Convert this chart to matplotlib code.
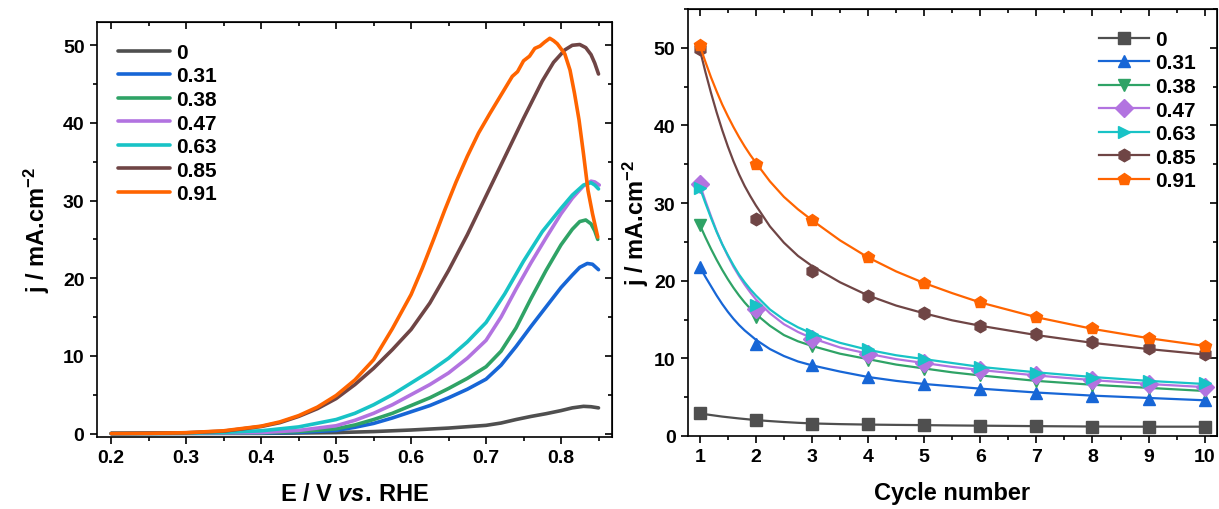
import matplotlib
matplotlib.use("Agg")
import matplotlib.pyplot as plt
from matplotlib.ticker import MultipleLocator

plt.rcParams['font.family'] = ['Liberation Sans', 'DejaVu Sans']
plt.rcParams['font.weight'] = 'bold'
plt.rcParams['mathtext.fontset'] = 'custom'
plt.rcParams['mathtext.rm'] = 'Liberation Sans:bold'
plt.rcParams['mathtext.bf'] = 'Liberation Sans:bold'
plt.rcParams['mathtext.it'] = 'Liberation Sans:italic:bold'

# ---- data ----
labels = ["0", "0.31", "0.38", "0.47", "0.63", "0.85", "0.91"]
colors = ["#4f4f4f", "#1766d6", "#2fa366", "#b273e0", "#18c3c6", "#6f4545", "#ff6400"]
markers = ["s", "^", "v", "D", ">", "h", "p"]

# left panel: LSV curves, j vs E
E_0 = [0.2, 0.4, 0.5, 0.55, 0.6, 0.65, 0.7, 0.72, 0.74, 0.76, 0.78, 0.8, 0.815, 0.83, 0.84, 0.85]
j_0 = [0, 0.02, 0.12, 0.25, 0.45, 0.7, 1.05, 1.35, 1.8, 2.2, 2.55, 2.95, 3.3, 3.5, 3.45, 3.3]
E_031 = [0.2, 0.4, 0.45, 0.5, 0.525, 0.55, 0.575, 0.6, 0.625, 0.65, 0.675, 0.7, 0.72, 0.74,
         0.76, 0.78, 0.8, 0.815, 0.825, 0.835, 0.842, 0.85]
j_031 = [0, 0.05, 0.15, 0.4, 0.8, 1.3, 2.0, 2.8, 3.6, 4.6, 5.7, 7.0, 8.8, 11.2,
         13.8, 16.3, 18.8, 20.4, 21.4, 21.9, 21.8, 21.1]
E_038 = [0.2, 0.4, 0.45, 0.5, 0.525, 0.55, 0.575, 0.6, 0.625, 0.65, 0.675, 0.7, 0.72, 0.74,
         0.76, 0.78, 0.8, 0.815, 0.825, 0.833, 0.84, 0.845, 0.849]
j_038 = [0, 0.08, 0.25, 0.6, 1.1, 1.8, 2.6, 3.6, 4.6, 5.8, 7.1, 8.6, 10.6, 13.6,
         17.4, 21.0, 24.3, 26.3, 27.3, 27.5, 27.0, 26.1, 25.0]
E_047 = [0.2, 0.4, 0.45, 0.5, 0.525, 0.55, 0.575, 0.6, 0.625, 0.65, 0.675, 0.7, 0.72, 0.74,
         0.76, 0.78, 0.8, 0.815, 0.83, 0.84, 0.845, 0.851]
j_047 = [0, 0.12, 0.4, 1.0, 1.7, 2.6, 3.7, 5.0, 6.3, 7.8, 9.7, 12.0, 15.0, 18.6,
         22.0, 25.2, 28.3, 30.3, 31.9, 32.5, 32.4, 32.0]
E_063 = [0.2, 0.3, 0.35, 0.4, 0.45, 0.5, 0.525, 0.55, 0.575, 0.6, 0.625, 0.65, 0.675, 0.7,
         0.725, 0.75, 0.775, 0.8, 0.815, 0.83, 0.84, 0.845, 0.85]
j_063 = [0, 0.05, 0.15, 0.35, 0.85, 1.8, 2.6, 3.7, 5.0, 6.5, 8.0, 9.7, 11.8, 14.3,
         18.0, 22.2, 26.0, 29.0, 30.7, 32.0, 32.3, 32.0, 31.5]
E_085 = [0.2, 0.3, 0.35, 0.4, 0.425, 0.45, 0.475, 0.5, 0.525, 0.55, 0.575, 0.6, 0.625, 0.65,
         0.675, 0.7, 0.725, 0.75, 0.775, 0.79, 0.805, 0.815, 0.825, 0.833, 0.84, 0.845, 0.85]
j_085 = [0, 0.1, 0.3, 0.9, 1.4, 2.2, 3.2, 4.5, 6.3, 8.4, 10.8, 13.4, 16.8, 21.0,
         25.6, 30.6, 35.6, 40.6, 45.4, 47.8, 49.4, 50.0, 50.1, 49.7, 48.8, 47.7, 46.3]
E_091 = [0.2, 0.25, 0.3, 0.35, 0.4, 0.425, 0.45, 0.475, 0.5, 0.525, 0.55, 0.575, 0.6, 0.615,
         0.63, 0.645, 0.66, 0.675, 0.69, 0.705, 0.72, 0.735, 0.742, 0.75, 0.758, 0.765, 0.772,
         0.778, 0.785, 0.79, 0.795, 0.805, 0.812, 0.818, 0.824, 0.83, 0.836, 0.842, 0.849]
j_091 = [0, 0.02, 0.1, 0.35, 0.95, 1.5, 2.3, 3.4, 4.9, 6.9, 9.5, 13.5, 17.9, 21.3,
         25.0, 28.8, 32.4, 35.7, 38.7, 41.2, 43.6, 46.0, 46.6, 48.0, 48.6, 49.6, 49.9,
         50.4, 50.9, 50.6, 50.2, 48.9, 46.8, 43.8, 40.4, 36.0, 31.3, 28.3, 25.3]

lsv_E = [E_0, E_031, E_038, E_047, E_063, E_085, E_091]
lsv_j = [j_0, j_031, j_038, j_047, j_063, j_085, j_091]

# right panel: current at each cycle (markers) and the fitted decay (lines)
cycles = [1, 2, 3, 4, 5, 6, 7, 8, 9, 10]
cyc_0 = [2.9, 2.0, 1.6, 1.5, 1.4, 1.3, 1.25, 1.2, 1.2, 1.2]
cyc_031 = [21.8, 11.9, 9.1, 7.6, 6.7, 6.1, 5.6, 5.2, 4.8, 4.6]
cyc_038 = [27.2, 15.3, 11.6, 9.8, 8.6, 7.8, 7.1, 6.6, 6.2, 5.8]
cyc_047 = [32.4, 16.3, 12.5, 10.6, 9.4, 8.5, 7.8, 7.2, 6.7, 6.3]
cyc_063 = [32.0, 16.9, 13.2, 11.2, 9.9, 8.9, 8.1, 7.5, 7.1, 6.8]
cyc_085 = [49.8, 27.9, 21.3, 18.0, 15.8, 14.2, 13.1, 12.1, 11.3, 10.6]
cyc_091 = [50.3, 35.0, 27.8, 23.0, 19.7, 17.3, 15.3, 13.9, 12.6, 11.6]
cyc_points = [cyc_0, cyc_031, cyc_038, cyc_047, cyc_063, cyc_085, cyc_091]

fit_x = [1, 1.1, 1.2, 1.3, 1.4, 1.5, 1.6, 1.7, 1.8, 1.9, 2, 2.25, 2.5, 2.75, 3,
         3.5, 4, 4.5, 5, 5.5, 6, 7, 8, 9, 10]
fit_0 = [2.9, 2.8, 2.7, 2.6, 2.5, 2.42, 2.34, 2.26, 2.19, 2.12, 2.05, 1.92, 1.8, 1.7, 1.62,
         1.53, 1.47, 1.43, 1.4, 1.36, 1.33, 1.27, 1.22, 1.2, 1.2]
fit_031 = [21.8, 20.5, 19.3, 18.1, 17.0, 16.0, 15.1, 14.3, 13.6, 13.0, 12.4, 11.2, 10.3, 9.6, 9.1,
           8.3, 7.6, 7.1, 6.7, 6.4, 6.1, 5.6, 5.2, 4.9, 4.6]
fit_038 = [27.2, 25.6, 24.1, 22.7, 21.4, 20.2, 19.1, 18.1, 17.2, 16.4, 15.7, 14.2, 13.0, 12.2, 11.6,
           10.6, 9.9, 9.2, 8.7, 8.2, 7.8, 7.1, 6.6, 6.2, 5.8]
fit_047 = [32.4, 30.3, 28.3, 26.4, 24.7, 23.2, 21.8, 20.6, 19.5, 18.5, 17.6, 15.8, 14.4, 13.4, 12.6,
           11.4, 10.6, 9.9, 9.4, 8.9, 8.5, 7.8, 7.2, 6.7, 6.3]
fit_063 = [32.0, 30.0, 28.1, 26.3, 24.7, 23.3, 22.0, 20.8, 19.8, 18.9, 18.1, 16.3, 15.0, 14.0, 13.2,
           12.0, 11.1, 10.4, 9.9, 9.4, 8.9, 8.2, 7.6, 7.1, 6.7]
fit_085 = [49.8, 46.9, 44.2, 41.7, 39.4, 37.3, 35.4, 33.7, 32.2, 30.9, 29.7, 27.0, 24.9, 23.2, 21.9,
           19.8, 18.1, 16.8, 15.8, 14.9, 14.2, 13.0, 12.0, 11.2, 10.5]
fit_091 = [50.3, 48.2, 46.2, 44.4, 42.7, 41.2, 39.8, 38.5, 37.3, 36.2, 35.2, 32.8, 30.8, 29.2, 27.8,
           25.2, 23.0, 21.2, 19.7, 18.4, 17.2, 15.3, 13.8, 12.6, 11.6]
fit_lines = [fit_0, fit_031, fit_038, fit_047, fit_063, fit_085, fit_091]

# ---- figure ----
W, H = 1219, 510
fig = plt.figure(figsize=(W / 100, H / 100), dpi=100)


def box(l, t, r, b):
    # pixel box -> figure fraction
    return [l / W, 1 - b / H, (r - l) / W, (b - t) / H]


def style_axes(ax, xmaj, xmin, ymaj, ymin):
    for s in ax.spines.values():
        s.set_linewidth(1.2)
    ax.xaxis.set_major_locator(MultipleLocator(xmaj))
    ax.xaxis.set_minor_locator(MultipleLocator(xmin))
    ax.yaxis.set_major_locator(MultipleLocator(ymaj))
    ax.yaxis.set_minor_locator(MultipleLocator(ymin))
    ax.tick_params(which='major', direction='out', length=5, width=1.2, labelsize=14, pad=4)
    ax.tick_params(which='minor', direction='out', length=3, width=1.2)
    # mirrored ticks on top/right pointing inward
    top = ax.secondary_xaxis('top')
    top.xaxis.set_major_locator(MultipleLocator(xmaj))
    top.xaxis.set_minor_locator(MultipleLocator(xmin))
    top.tick_params(which='major', direction='in', length=5, width=1.2, labeltop=False)
    top.tick_params(which='minor', direction='in', length=3, width=1.2)
    right = ax.secondary_yaxis('right')
    right.yaxis.set_major_locator(MultipleLocator(ymaj))
    right.yaxis.set_minor_locator(MultipleLocator(ymin))
    right.tick_params(which='major', direction='in', length=5, width=1.2, labelright=False)
    right.tick_params(which='minor', direction='in', length=3, width=1.2)


# left panel
ax1 = fig.add_axes(box(97, 23, 612, 438))
for E, j, c, lab in zip(lsv_E, lsv_j, colors, labels):
    ax1.plot(E, j, color=c, lw=2.6, label=lab, solid_capstyle='round', solid_joinstyle='round')
ax1.set_xlim(0.181, 0.868)
ax1.set_ylim(-0.45, 53)
style_axes(ax1, 0.1, 0.05, 10, 5)
ax1.set_xlabel("E / V $\\mathit{vs.}\\,$RHE", fontsize=17, fontweight='bold', labelpad=11)
ax1.set_ylabel("j / mA.cm$^{-2}$", fontsize=17, fontweight='bold', labelpad=8)
ax1.legend(loc='upper left', bbox_to_anchor=(0.0, 1.0), frameon=False, fontsize=15,
           handlelength=2.5, handletextpad=0.3, labelspacing=0.22, borderaxespad=0.6)

# right panel
ax2 = fig.add_axes(box(688, 10, 1217, 437))
for pts, fit, c, m, lab in zip(cyc_points, fit_lines, colors, markers, labels):
    ax2.plot(fit_x, fit, color=c, lw=1.6, solid_joinstyle='round')
    ax2.plot(cycles, pts, linestyle='none', marker=m, color=c, ms=9, mec=c)
    ax2.plot([], [], color=c, lw=1.6, marker=m, ms=9, label=lab)
ax2.set_xlim(0.79, 10.22)
ax2.set_ylim(0, 55)
style_axes(ax2, 1, 0.5, 10, 5)
ax2.set_xlabel("Cycle number", fontsize=17, fontweight='bold', labelpad=11)
ax2.set_ylabel("j / mA.cm$^{-2}$", fontsize=17, fontweight='bold', labelpad=2)
ax2.legend(loc='upper right', bbox_to_anchor=(1.0, 1.0), frameon=False, fontsize=15,
           handlelength=2.4, handletextpad=0.3, labelspacing=0.22, borderaxespad=0.6)

fig.savefig("out.png", dpi=100)
